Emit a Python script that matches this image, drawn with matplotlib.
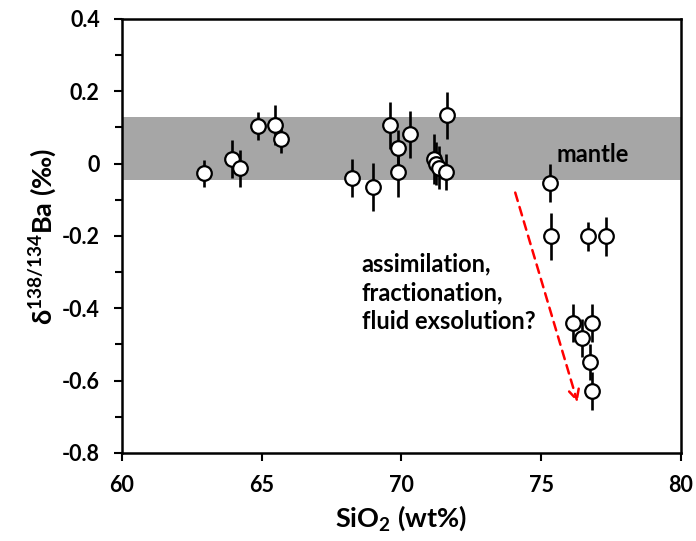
import matplotlib
matplotlib.use("Agg")
import matplotlib.pyplot as plt
from matplotlib.ticker import MultipleLocator

plt.rcParams['font.family'] = ['Lato', 'DejaVu Sans']
plt.rcParams['font.weight'] = 'bold'
plt.rcParams['mathtext.fontset'] = 'custom'
plt.rcParams['mathtext.rm'] = 'Lato:bold'
plt.rcParams['mathtext.bf'] = 'Lato:bold'
plt.rcParams['mathtext.it'] = 'Lato:bold'

# Data (SiO2 wt%, delta138/134Ba permil, 2SD error)
sio2 = [62.95, 63.93, 64.23, 64.87, 65.49, 65.70,
        68.22, 68.99, 69.60, 69.89, 69.89, 70.32,
        71.17, 71.23, 71.36, 71.60, 71.64,
        75.33, 75.35, 76.69, 77.30,
        76.12, 76.81, 76.45, 76.74, 76.83]
dba = [-0.027, 0.012, -0.013, 0.104, 0.106, 0.068,
       -0.040, -0.065, 0.106, 0.043, -0.024, 0.081,
       0.013, 0.000, -0.011, -0.024, 0.134,
       -0.054, -0.201, -0.201, -0.201,
       -0.440, -0.440, -0.482, -0.548, -0.628]
err = [0.038, 0.053, 0.052, 0.038, 0.055, 0.038,
       0.052, 0.067, 0.065, 0.050, 0.068, 0.065,
       0.068, 0.060, 0.060, 0.050, 0.065,
       0.052, 0.065, 0.040, 0.053,
       0.052, 0.052, 0.052, 0.050, 0.052]

mantle_band = (-0.045, 0.13)
arrow_start = (74.07, -0.08)
arrow_end = (76.30, -0.66)

fig = plt.figure(figsize=(6.96, 5.41), dpi=100)
ax = fig.add_axes([0.1753, 0.1627, 0.8031, 0.8022])

ax.axhspan(mantle_band[0], mantle_band[1], color='#a6a6a6', zorder=0, lw=0)

ax.errorbar(sio2, dba, yerr=err, fmt='o', ms=10.5, mfc='white', mec='black',
            mew=1.6, ecolor='black', elinewidth=1.9, capsize=0, zorder=3)

ax.annotate('', xy=arrow_end, xytext=arrow_start,
            arrowprops=dict(arrowstyle='->', color='#ff0000', lw=1.8,
                            linestyle=(0, (3.5, 2.5)), mutation_scale=18,
                            shrinkA=0, shrinkB=0))

ax.text(75.55, 0.024, 'mantle', fontsize=17, fontweight='bold', va='center', ha='left')
ax.text(68.57, -0.357, 'assimilation,\nfractionation,\nfluid exsolution?', fontsize=17,
        fontweight='bold', va='center', ha='left', linespacing=1.32)

ax.set_xlim(60, 80)
ax.set_ylim(-0.8, 0.4)
ax.xaxis.set_major_locator(MultipleLocator(5))
ax.yaxis.set_major_locator(MultipleLocator(0.2))
ax.yaxis.set_minor_locator(MultipleLocator(0.1))
ax.set_yticks([0.4, 0.2, 0.0, -0.2, -0.4, -0.6, -0.8])
ax.set_yticklabels(['0.4', '0.2', '0', '-0.2', '-0.4', '-0.6', '-0.8'])
ax.set_xticks([60, 65, 70, 75, 80])
ax.set_xticklabels(['60', '65', '70', '75', '80'])

for s in ax.spines.values():
    s.set_linewidth(1.8)
ax.tick_params(axis='both', which='major', direction='out', length=6, width=1.5,
               labelsize=15.5, pad=10)
ax.tick_params(axis='y', which='minor', direction='out', length=5, width=1.5)
for lbl in ax.get_xticklabels() + ax.get_yticklabels():
    lbl.set_fontweight('bold')

ax.set_xlabel(r'SiO$_{2}$ (wt%)', fontsize=19.5, fontweight='bold', labelpad=5)
ax.set_ylabel(r'δ$^{138/134}$Ba (‰)', fontsize=19.5, fontweight='bold', labelpad=2)

fig.savefig('out.png', dpi=100)
